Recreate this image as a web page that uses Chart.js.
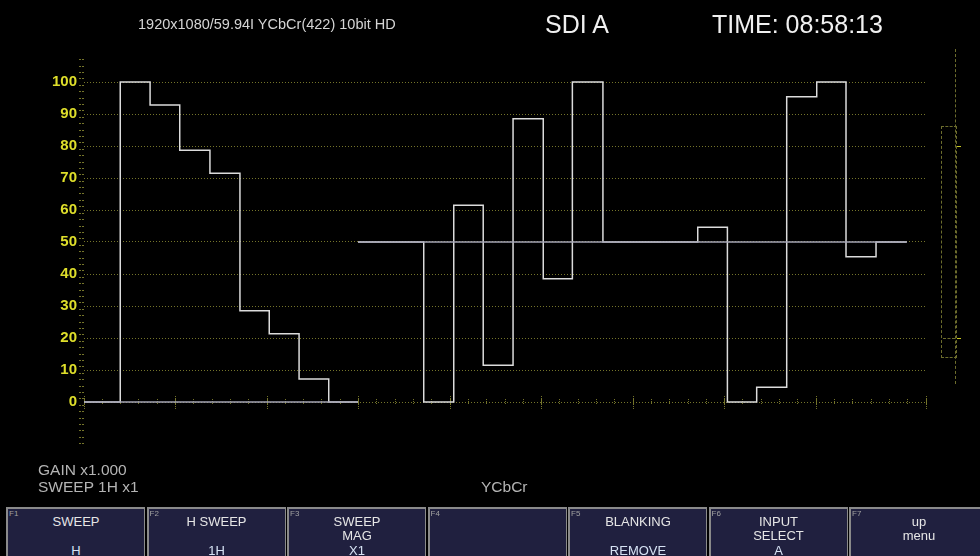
<!DOCTYPE html>
<html>
<head>
<meta charset="utf-8">
<script src="https://cdn.jsdelivr.net/npm/chart.js@4/dist/chart.umd.min.js"></script>
<style>
  body { margin: 0; background: #000; overflow: hidden; width: 980px; height: 556px; position: relative; font-family: "Liberation Sans", Arial, sans-serif; }
  #wfm { position: absolute; left: 0; top: 0; }
  .txt { position: absolute; white-space: nowrap; }
  .hdr-small { left: 138px; top: 16px; font-size: 14.5px; color: #d4d4d4; }
  .hdr-big { top: 10px; font-size: 25px; color: #f0f0f0; }
  .status { font-size: 15.5px; color: #b4b4b4; line-height: 17px; }
  .bar { position: absolute; left: 0; top: 507px; width: 980px; height: 49px; }
  .btn { position: absolute; top: 0; height: 49px; width: 139px; background: #20203f; border: 1px solid #8a8a8a; box-sizing: border-box; border-width: 2px 1px 0 2px; }
  .fn { position: absolute; left: 1px; top: 0; font-size: 8px; color: #a0a0a0; }
  .ln { position: absolute; left: 0; width: 100%; text-align: center; font-size: 13px; color: #e6e6e6; line-height: 14px; }
  .val { color: #d6e2f4; }
  .meter { position: absolute; border-color: #6c6c2c; border-style: dashed; }
</style>
</head>
<body>
<canvas id="wfm" width="980" height="556"></canvas>

<div class="txt hdr-small">1920x1080/59.94I YCbCr(422) 10bit HD</div>
<div class="txt hdr-big" style="left:545px">SDI A</div>
<div class="txt hdr-big" style="left:712px">TIME: 08:58:13</div>

<div class="txt status" style="left:38px;top:461px">GAIN x1.000<br>SWEEP 1H x1</div>
<div class="txt status" style="left:481px;top:478px">YCbCr</div>

<!-- level meter on the right -->
<div class="meter" style="left:955px;top:49px;height:335px;width:0;border-width:0 0 0 1px"></div>
<div class="meter" style="left:941px;top:126px;width:14px;height:230px;border-width:1px"></div>
<div class="meter" style="left:943px;top:338px;width:12px;height:0;border-width:1px 0 0 0"></div>
<div style="position:absolute;left:957px;top:146px;width:4px;height:1px;background:#c8c820"></div>
<div style="position:absolute;left:957px;top:338px;width:4px;height:1px;background:#c8c820"></div>

<div class="bar" id="bar"></div>

<script>
// waveform levels (%), x in sweep divisions
var lumaX     = [0, 1.98, 3.61, 5.23, 6.88, 8.52, 10.12, 11.75, 13.37, 14.97];
var lumaLevel = [0, 100, 92.8, 78.7, 71.5, 28.5, 21.3, 7.2, 0, 0];

var chromaX     = [14.97, 18.56, 20.2, 21.81, 23.44, 25.09, 26.68, 28.35, 33.53, 35.15, 36.75, 38.39, 40.03, 41.63, 43.27, 44.95];
var chromaLevel = [50, 0, 61.5, 11.5, 88.5, 38.5, 100, 50, 54.6, 0, 4.6, 95.4, 100, 45.4, 50, 50];

var blackX = [0, 14.97];
var blackLevel = [0, 0];
var centerX = [14.97, 44.95];
var centerLevel = [50, 50];

var scaleLabels = [0, 10, 20, 30, 40, 50, 60, 70, 80, 90, 100];

// function keys
var keyNames  = ['F1', 'F2', 'F3', 'F4', 'F5', 'F6', 'F7'];
var keyTitles = [['SWEEP'], ['H SWEEP'], ['SWEEP', 'MAG'], [], ['BLANKING'], ['INPUT', 'SELECT'], ['up', 'menu']];
var keyValues = ['H', '1H', 'X1', '', 'REMOVE', 'A', ''];

function pts(xs, ys) {
  var out = [];
  for (var i = 0; i < xs.length; i++) out.push({x: xs[i], y: ys[i]});
  return out;
}

var grid = '#74742a';

function lineSet(xs, ys, color) {
  return {
    data: pts(xs, ys),
    borderColor: color,
    borderWidth: 1.5,
    pointRadius: 0,
    stepped: 'before',
    fill: false
  };
}

var config = {
  type: 'line',
  data: {
    datasets: [
      lineSet(blackX, blackLevel, '#a4a4b4'),
      lineSet(centerX, centerLevel, '#a4a4b4'),
      lineSet(lumaX, lumaLevel, '#dcdcdc'),
      lineSet(chromaX, chromaLevel, '#dcdcdc')
    ]
  },
  options: {
    responsive: false,
    animation: false,
    layout: { padding: { left: 0, right: 54, top: 59.6, bottom: 112.4 } },
    plugins: { legend: { display: false }, tooltip: { enabled: false } },
    scales: {
      x: {
        type: 'linear', min: 0, max: 46,
        position: { y: 1 },
        border: { display: false },
        grid: { drawOnChartArea: false, drawTicks: true, tickLength: 6, tickColor: grid, tickBorderDash: [1, 1] },
        ticks: { display: false, stepSize: 1 }
      },
      xMajor: {
        type: 'linear', min: 0, max: 46, axis: 'x',
        position: { y: 2 },
        border: { display: false },
        grid: { drawOnChartArea: false, drawTicks: true, tickLength: 13, tickColor: grid, tickBorderDash: [1, 1] },
        ticks: { display: false, stepSize: 5 }
      },
      y: {
        type: 'linear', min: -13, max: 107, position: 'left', weight: 1,
        afterFit: function(s) { s.width = 78; },
        afterBuildTicks: function(s) { s.ticks = scaleLabels.map(function(v) { return {value: v}; }); },
        border: { display: false, dash: [1, 2] },
        grid: { color: grid, lineWidth: 1, drawTicks: false },
        ticks: { color: '#dede2a', padding: 1, font: { family: 'Liberation Sans', size: 15, weight: 'bold' } }
      },
      yMinor: {
        type: 'linear', min: -13, max: 107, position: 'left', weight: 0, axis: 'y',
        afterFit: function(s) { s.width = 6; },
        border: { display: false },
        grid: { drawOnChartArea: false, drawTicks: true, tickLength: 5, tickColor: grid, tickBorderDash: [2, 1] },
        ticks: { display: false, stepSize: 2, includeBounds: false }
      }
    }
  }
};

var ctx = document.getElementById('wfm').getContext('2d');
window.wfm = new Chart(ctx, config);

// build the soft key bar
var bar = document.getElementById('bar');
for (var k = 0; k < keyNames.length; k++) {
  var b = document.createElement('div');
  b.className = 'btn';
  b.style.left = (6 + k * 140.5) + 'px';
  var html = '<div class="fn">' + keyNames[k] + '</div>';
  for (var j = 0; j < keyTitles[k].length; j++) {
    html += '<div class="ln" style="top:' + (6 + j * 14) + 'px">' + keyTitles[k][j] + '</div>';
  }
  if (keyValues[k]) html += '<div class="ln val" style="top:35px">' + keyValues[k] + '</div>';
  b.innerHTML = html;
  bar.appendChild(b);
}
</script>
</body>
</html>
